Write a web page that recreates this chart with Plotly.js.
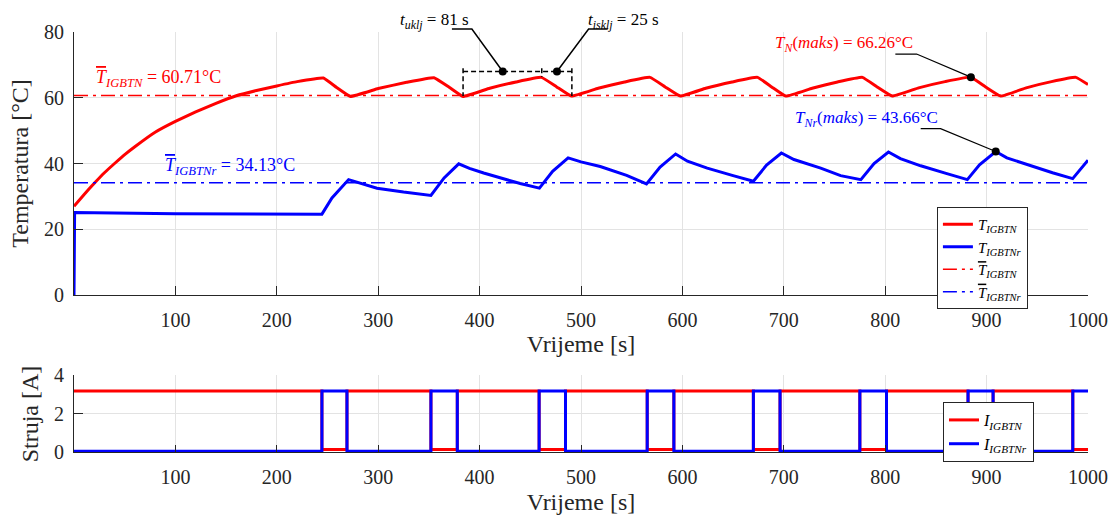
<!DOCTYPE html>
<html>
<head>
<meta charset="utf-8">
<script src="https://cdn.plot.ly/plotly-3.0.1.min.js"></script>
<style>html,body{margin:0;padding:0;background:#fff;}#chart{width:1115px;height:517px;}</style>
</head>
<body>
<div id="chart"></div>
<script>
// ---------- data ----------
const tRed = [0, 10, 20, 30, 40, 50, 60, 80, 100, 120, 140, 160, 180, 200, 220, 246, 259, 272.5,
  300, 328, 355, 370, 383.7, 410, 436, 461, 476, 490.6, 517, 543, 568, 583, 598, 623, 649, 674,
  688, 702, 728, 753, 777.5, 792, 807, 833, 859, 884.5, 899, 914, 939, 964, 988, 1000];
const tempRed = [27.0, 30.6, 34.0, 37.2, 40.0, 42.7, 45.1, 49.5, 52.8, 55.7, 58.3, 60.6, 62.2, 63.6, 64.9, 66.0, 63.1, 60.4,
  62.8, 64.7, 66.1, 63.2, 60.4, 62.9, 64.8, 66.2, 63.3, 60.5, 62.9, 64.8, 66.2, 63.3, 60.5, 62.9, 64.8, 66.2,
  63.3, 60.5, 62.9, 64.8, 66.2, 63.3, 60.5, 63.0, 64.9, 66.26, 63.3, 60.5, 63.0, 64.9, 66.2, 64.0];

const tBlue = [0, 0.6, 20, 100, 244.5, 254.4, 270.8, 280, 298.8, 325, 352, 365, 379.4, 390, 404, 440, 459,
  472, 487.3, 500, 519, 545, 564.6, 578, 593.3, 605, 624.5, 650, 670, 683, 697.6, 710, 736.4, 756, 776,
  789, 803.2, 815, 835, 860, 881, 893, 909, 920, 943.7, 965, 984.9, 1000];
const tempBlue = [0, 25.1, 25.0, 24.7, 24.6, 29.5, 35.1, 34.3, 32.5, 31.3, 30.3, 35.6, 39.9, 38.5, 37.1, 33.9, 32.5,
  37.6, 41.7, 40.5, 39.1, 36.4, 33.8, 38.9, 42.9, 40.7, 38.6, 36.3, 34.6, 39.5, 43.2, 41.2, 38.6, 36.3, 35.1,
  40.0, 43.5, 41.5, 39.3, 37.0, 35.1, 39.6, 43.66, 41.7, 39.3, 37.2, 35.4, 41.0];

const meanRed = 60.71;
const meanBlue = 34.13;

// switching instants of the IGBTNr current (on / off)
const pulseOn  = [244.5, 352, 458.7, 565.3, 670, 775, 881.7, 985];
const pulseOff = [269.2, 378, 484.7, 591.6, 696.3, 801.3, 906.4, 1000];
const iHigh = 3.2;
const iLowRed = 0.15;
const iLowBlue = 0.07;

const xTicks = [100, 200, 300, 400, 500, 600, 700, 800, 900, 1000];

// ---------- build step series for currents ----------
function steps(high, low, onIsHigh) {
  const x = [0], y = [onIsHigh ? low : high];
  for (let k = 0; k < pulseOn.length; k++) {
    const a = pulseOn[k], b = pulseOff[k];
    const inV = onIsHigh ? high : low, outV = onIsHigh ? low : high;
    x.push(a, a); y.push(outV, inV);
    x.push(b); y.push(inV);
    if (b < 1000) { x.push(b); y.push(outV); }
  }
  if (x[x.length - 1] < 1000) { x.push(1000); y.push(y[y.length - 1]); }
  return {x, y};
}
const iRed = steps(iHigh, iLowRed, false);
const iBlue = steps(iHigh, iLowBlue, true);

// maxima derived from the arrays
function argmax(a){let m=0;for(let i=1;i<a.length;i++) if(a[i]>a[m]) m=i;return m;}
const kR = argmax(tempRed), kB = argmax(tempBlue);

const RED = '#ff0000', BLUE = '#0000ff', AX = '#262626', GRID = '#e3e3e3';
const FONT = '"Liberation Serif", "DejaVu Serif", serif';
const DD = '14px,5px,3px,5px';

const TOP = [0.4294, 0.9381], BOT = [0.1248, 0.2737];
function yTop(v){return TOP[0] + v/80*(TOP[1]-TOP[0]);}

const Tsym = (sub) => '<i>T</i><sub><i>' + sub + '</i></sub>';
const Tbar = (sub) => '<span style="text-decoration:overline"><i>T</i></span><sub><i>' + sub + '</i></sub>';

const traces = [
  {x: tRed, y: tempRed, type: 'scatter', mode: 'lines', name: Tsym('IGBTN'), line: {color: RED, width: 3, shape: 'spline', smoothing: 0.3}, legend: 'legend'},
  {x: tBlue, y: tempBlue, type: 'scatter', mode: 'lines', name: Tsym('IGBTNr'), line: {color: BLUE, width: 3}, legend: 'legend'},
  {x: [0, 1000], y: [meanRed, meanRed], type: 'scatter', mode: 'lines', name: Tbar('IGBTN'), line: {color: RED, width: 1.5, dash: DD}, legend: 'legend'},
  {x: [0, 1000], y: [meanBlue, meanBlue], type: 'scatter', mode: 'lines', name: Tbar('IGBTNr'), line: {color: BLUE, width: 1.5, dash: DD}, legend: 'legend'},
  {x: [tRed[kR], tBlue[kB], 422.8, 476.3], y: [tempRed[kR], tempBlue[kB], 68.0, 68.0], type: 'scatter', mode: 'markers',
   marker: {color: '#000', size: 8}, showlegend: false, cliponaxis: false},
  {x: iRed.x, y: iRed.y, type: 'scatter', mode: 'lines', name: '<i>I</i><sub><i>IGBTN</i></sub>', line: {color: RED, width: 3}, xaxis: 'x2', yaxis: 'y2', legend: 'legend2'},
  {x: iBlue.x, y: iBlue.y, type: 'scatter', mode: 'lines', name: '<i>I</i><sub><i>IGBTNr</i></sub>', line: {color: BLUE, width: 3}, xaxis: 'x2', yaxis: 'y2', legend: 'legend2'}
];

const axCommon = {
  showline: true, linecolor: AX, linewidth: 1, mirror: false,
  ticks: 'inside', tickcolor: AX, tickwidth: 1, ticklen: 9,
  showgrid: true, gridcolor: GRID, gridwidth: 1, zeroline: false,
  tickfont: {family: FONT, size: 20, color: AX}
};

const shp = (o) => Object.assign({type: 'line', xref: 'x', yref: 'y', line: {color: '#000', width: 1.5, dash: '5px,3px'}}, o);
const shapes = [
  shp({x0: 383.7, x1: 491, y0: 68.0, y1: 68.0}),
  shp({x0: 383.7, x1: 383.7, y0: 69.0, y1: 60.5}),
  shp({x0: 491, x1: 491, y0: 69.0, y1: 60.5}),
  shp({x0: 461.3, x1: 461.3, y0: 69.0, y1: 66.3}),
  {type: 'path', xref: 'x', yref: 'paper', line: {color: '#000', width: 1.5},
   path: 'M 372.7,' + yTop(80.9) + ' L 392.4,' + yTop(80.9) + ' L 422.8,' + yTop(68.0)},
  {type: 'path', xref: 'x', yref: 'paper', line: {color: '#000', width: 1.5},
   path: 'M 526.3,' + yTop(80.9) + ' L 507.5,' + yTop(80.9) + ' L 476.3,' + yTop(68.0)},
  {type: 'path', xref: 'x', yref: 'y', line: {color: '#000', width: 1.2},
   path: 'M 810,73.3 L 831,73.3 L ' + tRed[kR] + ',' + tempRed[kR]},
  {type: 'path', xref: 'x', yref: 'y', line: {color: '#000', width: 1.2},
   path: 'M 835,50.6 L 854.6,50.6 L ' + tBlue[kB] + ',' + tempBlue[kB]}
];

const ann = (o) => Object.assign({showarrow: false, xref: 'x', yref: 'y', xanchor: 'center', yanchor: 'middle'}, o);
const annotations = [
  ann({x: 356, y: yTop(83.4), yref: 'paper', text: '<i>t</i><sub><i>uklj</i></sub> = 81 s', font: {family: FONT, size: 17, color: '#000'}}),
  ann({x: 542, y: yTop(83.4), yref: 'paper', text: '<i>t</i><sub><i>isklj</i></sub> = 25 s', font: {family: FONT, size: 17, color: '#000'}}),
  ann({x: 759, y: 76.4, text: '<i>T</i><sub><i>N</i></sub>(<i>maks</i>) = ' + tempRed[kR].toFixed(2) + '°C', font: {family: FONT, size: 17, color: RED}}),
  ann({x: 782, y: 53.5, text: '<i>T</i><sub><i>Nr</i></sub>(<i>maks</i>) = ' + tempBlue[kB].toFixed(2) + '°C', font: {family: FONT, size: 17, color: BLUE}}),
  ann({x: 83, y: 66.0, text: Tbar('IGBTN') + ' = ' + meanRed.toFixed(2) + '°C', font: {family: FONT, size: 18, color: RED}}),
  ann({x: 154, y: 39.1, text: Tbar('IGBTNr') + ' = ' + meanBlue.toFixed(2) + '°C', font: {family: FONT, size: 18, color: BLUE}})
];

const layout = {
  width: 1115, height: 517,
  margin: {l: 74, r: 27, t: 0, b: 0},
  paper_bgcolor: '#fff', plot_bgcolor: '#fff',
  showlegend: true,
  font: {family: FONT},
  xaxis: Object.assign({}, axCommon, {domain: [0, 1], range: [0, 1000], tickvals: xTicks, anchor: 'y', ticklabelstandoff: 7,
    title: {text: 'Vrijeme [s]', font: {family: FONT, size: 24, color: AX}, standoff: 5}}),
  yaxis: Object.assign({}, axCommon, {domain: TOP, range: [0, 80], tickvals: [0, 20, 40, 60, 80], anchor: 'x', ticklabelstandoff: 5,
    title: {text: 'Temperatura [°C]', font: {family: FONT, size: 24, color: AX}, standoff: 8}}),
  xaxis2: Object.assign({}, axCommon, {domain: [0, 1], range: [0, 1000], tickvals: xTicks, anchor: 'y2', ticklen: 7, ticklabelstandoff: 7,
    title: {text: 'Vrijeme [s]', font: {family: FONT, size: 24, color: AX}, standoff: 5}}),
  yaxis2: Object.assign({}, axCommon, {domain: BOT, range: [0, 4], tickvals: [0, 2, 4], anchor: 'x2', ticklabelstandoff: 5,
    title: {text: 'Struja [A]', font: {family: FONT, size: 24, color: AX}, standoff: 8}}),
  legend: {x: 0.851, y: 0.5996, xanchor: 'left', yanchor: 'top', bgcolor: '#fff', bordercolor: AX, borderwidth: 1,
    font: {family: FONT, size: 15, color: '#000'}, tracegroupgap: 0, itemwidth: 30},
  legend2: {x: 0.857, y: 0.2224, xanchor: 'left', yanchor: 'top', bgcolor: '#fff', bordercolor: AX, borderwidth: 1,
    font: {family: FONT, size: 16, color: '#000'}, tracegroupgap: 0, itemwidth: 30},
  shapes: shapes,
  annotations: annotations
};

Plotly.newPlot('chart', traces, layout, {staticPlot: true, displayModeBar: false});
</script>
</body>
</html>
